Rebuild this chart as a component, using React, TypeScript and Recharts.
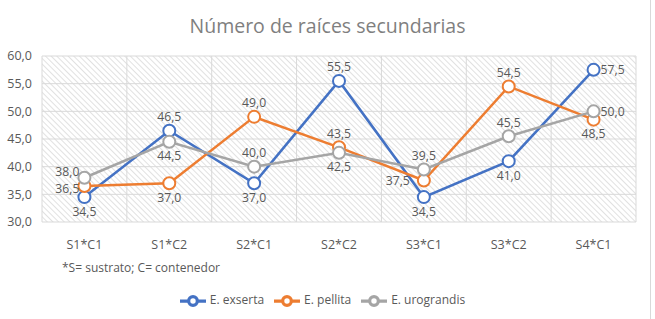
import { LineChart, Line, XAxis, YAxis, CartesianGrid, ReferenceLine, Legend, LabelList } from 'recharts';

const categories = ['S1*C1', 'S1*C2', 'S2*C1', 'S2*C2', 'S3*C1', 'S3*C2', 'S4*C1'];
const exserta = [34.5, 46.5, 37.0, 55.5, 34.5, 41.0, 57.5];
const pellita = [36.5, 37.0, 49.0, 43.5, 37.5, 54.5, 48.5];
const urograndis = [38.0, 44.5, 40.0, 42.5, 39.5, 45.5, 50.0];
const yTicks = [30, 35, 40, 45, 50, 55, 60];

// where Excel placed each data label
type Pos = 'top' | 'bottom' | 'left' | 'right' | 'leftNear' | 'leftUp';
const exsertaPos: Pos[] = ['bottom', 'top', 'bottom', 'top', 'bottom', 'bottom', 'right'];
const pellitaPos: Pos[] = ['leftNear', 'bottom', 'top', 'top', 'left', 'top', 'bottom'];
const urograndisPos: Pos[] = ['leftUp', 'bottom', 'top', 'bottom', 'top', 'top', 'right'];

const FONT = '"Open Sans", sans-serif';
const TEXT = '#595959';

const data = categories.map((c, i) => ({
  x: i,
  name: c,
  exserta: exserta[i],
  pellita: pellita[i],
  urograndis: urograndis[i],
}));

const fmt = (v: number) => v.toFixed(1).replace('.', ',');

function makeLabel(positions: Pos[]) {
  return (props: any) => {
    const { x, y, value, index } = props;
    const pos = positions[index];
    let tx = x;
    let ty = y;
    let anchor: 'middle' | 'start' | 'end' = 'middle';
    if (pos === 'top') ty = y - 14;
    if (pos === 'bottom') ty = y + 14;
    if (pos === 'left') { tx = x - 14; anchor = 'end'; }
    if (pos === 'leftNear') { tx = x - 5; ty = y + 2; anchor = 'end'; }
    if (pos === 'leftUp') { tx = x - 5; ty = y - 6; anchor = 'end'; }
    if (pos === 'right') { tx = x + 7; anchor = 'start'; }
    return (
      <text x={tx} y={ty} textAnchor={anchor} dominantBaseline="central"
        fill={TEXT} fontSize={12.2} fontFamily={FONT}>
        {fmt(value)}
      </text>
    );
  };
}

const series = [
  { key: 'exserta', name: 'E. exserta', color: '#4472C4', pos: exsertaPos },
  { key: 'pellita', name: 'E. pellita', color: '#ED7D31', pos: pellitaPos },
  { key: 'urograndis', name: 'E. urograndis', color: '#A5A5A5', pos: urograndisPos },
];

const boundaries = categories.map((_, i) => i - 0.5).concat([categories.length - 0.5]);

export default function App() {
  return (
    <div style={{ position: 'absolute', left: 0, top: 0, width: 655, height: 319, background: '#fff', fontFamily: FONT }}>
      <div style={{ position: 'absolute', left: 0, top: 12, width: 655, textAlign: 'center', fontSize: 19.5, lineHeight: '28px', color: '#7f7f7f' }}>
        Número de raíces secundarias
      </div>
      <div style={{ position: 'absolute', left: 62, top: 259, fontSize: 12, color: TEXT, whiteSpace: 'nowrap' }}>
        *S= sustrato; C= contenedor
      </div>
      <div style={{ position: 'absolute', left: 650, top: 0, width: 1, height: 319, background: '#d9d9d9' }} />
      <LineChart width={655} height={319} data={data}
        margin={{ top: 56, right: 19, bottom: 67, left: 0 }}>
        <defs>
          <pattern id="hatch" patternUnits="userSpaceOnUse" width={4} height={4} patternTransform="rotate(-45)">
            <rect width={4} height={4} fill="#ffffff" />
            <line x1={0} y1={0} x2={0} y2={4} stroke="#d4d4d4" strokeWidth={1.4} />
          </pattern>
        </defs>
        <CartesianGrid vertical={false} stroke="#d9d9d9" fill="url(#hatch)" fillOpacity={1} />
        {boundaries.map(b => (
          <ReferenceLine key={b} x={b} stroke="#d9d9d9" ifOverflow="visible" />
        ))}
        <XAxis dataKey="x" type="number" domain={[-0.5, categories.length - 0.5]}
          ticks={categories.map((_, i) => i)} tickFormatter={(i: number) => categories[i]}
          axisLine={false} tickLine={false} tickMargin={12} interval={0}
          tick={{ fill: TEXT, fontSize: 12.5, fontFamily: FONT }} />
        <YAxis domain={[30, 60]} ticks={yTicks} tickFormatter={fmt} width={42} interval={0}
          axisLine={false} tickLine={false} tickMargin={4}
          tick={{ fill: TEXT, fontSize: 12.5, fontFamily: FONT }} />
        <Legend verticalAlign="middle" align="center" layout="horizontal" iconType="line" iconSize={26}
          wrapperStyle={{ top: 288, left: 0, width: 655, fontSize: 12, fontFamily: FONT }}
          formatter={(v: string) => <span style={{ color: TEXT }}>{v}</span>} />
        {series.map(s => (
          <Line key={s.key} dataKey={s.key} name={s.name} type="linear" stroke={s.color}
            strokeWidth={2.5} isAnimationActive={false}
            dot={{ r: 6, fill: '#fff', stroke: s.color, strokeWidth: 2 }}
            activeDot={false}>
            <LabelList dataKey={s.key} content={makeLabel(s.pos)} />
          </Line>
        ))}
      </LineChart>
    </div>
  );
}
